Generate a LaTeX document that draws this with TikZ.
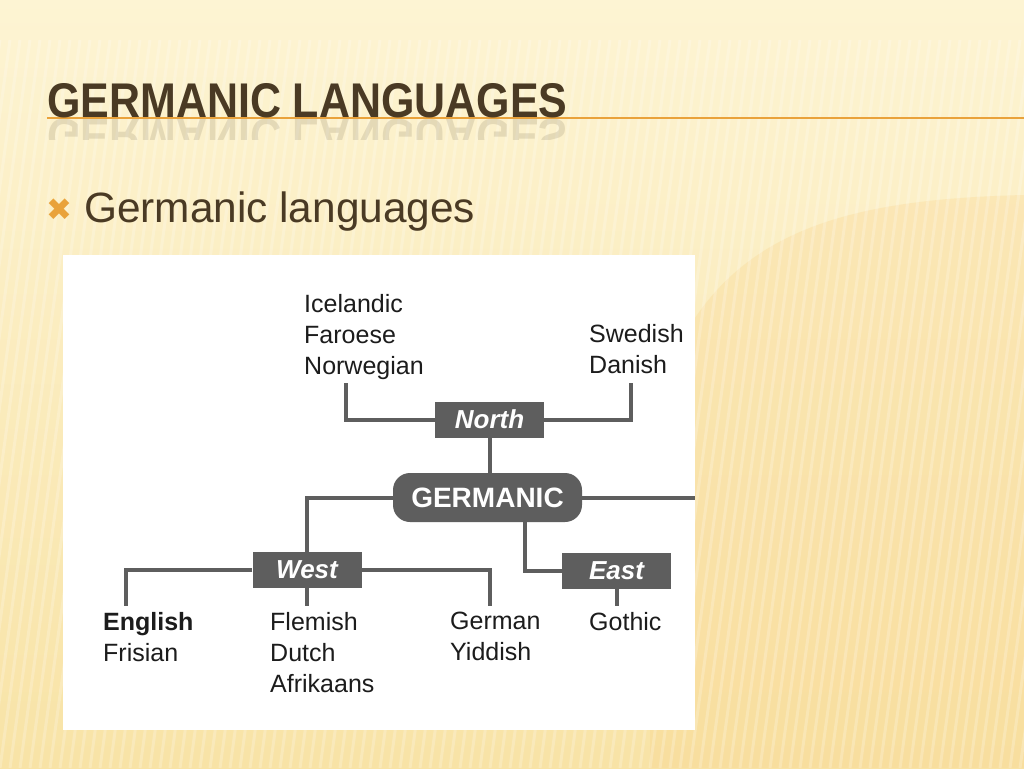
\documentclass[tikz,border=0pt]{standalone}
\usepackage{fontspec}
\setmainfont{Liberation Sans}
\newfontfamily\symfont{DejaVu Sans}
\usetikzlibrary{positioning}
\definecolor{slidetop}{HTML}{FDF4D3}
\definecolor{slidebot}{HTML}{F8E3A6}
\definecolor{titlebrown}{HTML}{4A3A24}
\definecolor{accent}{HTML}{E9A23B}
\definecolor{treegray}{HTML}{5E5E5E}
\definecolor{inkblack}{HTML}{1C1C1C}
\tikzset{
  branch/.style={fill=treegray, text=white, minimum width=109pt, minimum height=36pt,
    inner sep=0pt, font=\fontsize{26}{30}\selectfont\bfseries\itshape},
  root/.style={branch, rounded corners=17pt, minimum width=189pt, minimum height=49pt,
    font=\fontsize{28}{32}\selectfont\bfseries},
  lang/.style={anchor=north west, inner sep=0pt, align=left, text=inkblack,
    font=\fontsize{25}{31}\selectfont},
  link/.style={draw=treegray, line width=4pt},
}
\begin{document}
\begin{tikzpicture}[x=1pt, y=-1pt]
  \useasboundingbox (0,0) rectangle (1024,768);
  % slide background
  \shade[top color=slidetop, bottom color=slidebot] (0,0) rectangle (1024,768);
  \fill[slidebot!85!orange, opacity=0.3] (1024,195) .. controls (820,200) and (700,240) .. (650,420)
    -- (650,768) -- (1024,768) -- cycle;
  \foreach \x in {0,10,...,1130}{%
    \draw[white, opacity=0.22, line width=3pt] (\x,40) -- (\x-100,768);
  }

  % title
  \draw[accent, line width=1.5pt] (47,118) -- (1024,118);
  \node[anchor=base west, inner sep=0pt, text=titlebrown] (title) at (47,117)
    {\resizebox{520pt}{34pt}{\bfseries GERMANIC LANGUAGES}};
  \begin{scope}[shift={(47,119)}]
    \clip (-5,0) rectangle (545,20);
    \node[anchor=base west, inner sep=0pt, transform shape, yscale=-1, text=titlebrown, opacity=0.13]
      (titleecho) at (0,0) {\resizebox{520pt}{34pt}{\bfseries GERMANIC LANGUAGES}};
  \end{scope}

  % bullet
  \node[text=accent, font=\symfont\fontsize{31}{31}\selectfont] (mark) at (59,210) {✖};
  \node[anchor=base west, inner sep=0pt, text=titlebrown] (point) at (84,222)
    {\resizebox{391pt}{!}{\fontsize{40}{48}\selectfont Germanic languages}};

  % tree panel
  \node[fill=white, anchor=north west, inner sep=0pt, minimum width=632pt, minimum height=475pt]
    (panel) at (63,255) {};

  \node[branch] (north) at (489.5,419.5) {North};
  \node[root] (germ) at (487.5,497.5) {GERMANIC};
  \node[branch] (west) at (307,570) {West};
  \node[branch] (east) at (616.5,571) {East};

  \node[lang] (nscand) at (304,294) {Icelandic\\Faroese\\Norwegian};
  \node[lang] (escand) at (589,324) {Swedish\\Danish};
  \node[lang] (anglo) at (103,612) {\textbf{English}\\Frisian};
  \node[lang] (lowfr) at (270,612) {Flemish\\Dutch\\Afrikaans};
  \node[lang] (highg) at (450,612) {German\\Yiddish};
  \node[lang] (goth) at (589,612) {Gothic};

  \coordinate (nscandfoot) at (346,383);
  \coordinate (escandfoot) at (631,383);
  \coordinate (anglofoot) at (126,606);
  \coordinate (lowfrfoot) at (307,606);
  \coordinate (highgfoot) at (490,606);
  \coordinate (gothfoot) at (616.5,606);

  \draw[link] (north.west) -| (nscandfoot);
  \draw[link] (north.east) -| (escandfoot);
  \draw[link] (north.south) -- (germ.north -| north.south);
  \draw[link] (germ.west) -| (west.north);
  \draw[link] (germ.east) -- (panel.east |- germ.east);
  \draw[link] ([xshift=37.5pt]germ.south) |- (east.west);
  \draw[link] (west.west) -| (anglofoot);
  \draw[link] (west.east) -| (highgfoot);
  \draw[link] (west.south) -- (lowfrfoot);
  \draw[link] (east.south) -- (gothfoot);
\end{tikzpicture}
\end{document}
